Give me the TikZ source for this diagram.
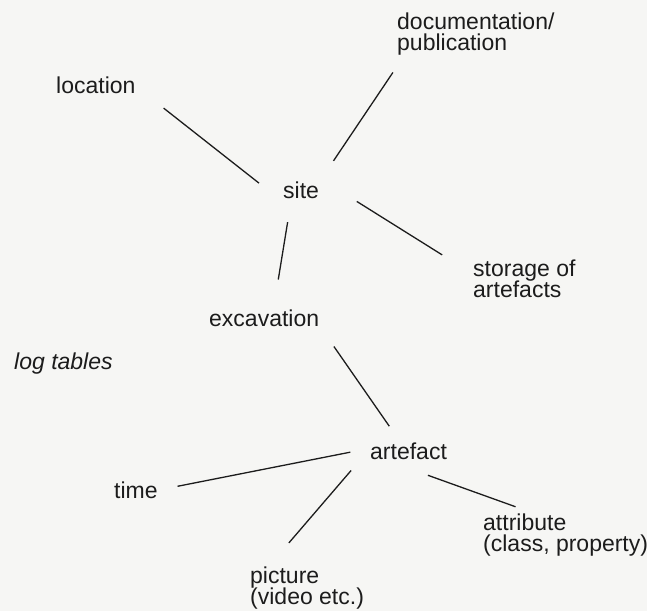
\documentclass[tikz,border=0pt]{standalone}
\usepackage{fontspec}
\setmainfont{Liberation Sans}
\usetikzlibrary{positioning}
\definecolor{paper}{RGB}{246,246,244}
\definecolor{ink}{RGB}{28,28,28}
\tikzstyle{term} = [inner sep=2pt, text=ink, font=\fontsize{23}{21.5}\selectfont]
\tikzstyle{note} = [term, font=\fontsize{23}{21.5}\selectfont\itshape]
\tikzstyle{multi} = [term, align=left]
\tikzstyle{link} = [draw, ink, line width=1.3pt]

\begin{document}
\begin{tikzpicture}[x=1pt, y=-1pt]
	\fill[paper] (0,0) rectangle (647,611);
	\useasboundingbox (0,0) rectangle (647,611);

	\node[term, anchor=base west] (site) at (281,198) {site};
	\node[term, above left=105pt and 227pt of site.base west, anchor=base west] (location) {location};
	\node[multi, above right=147.5pt and 114pt of site.base west, anchor=base west] (documentation) {documentation/\\publication};
	\node[multi, below right=99.5pt and 190pt of site.base west, anchor=base west] (storage) {storage of\\artefacts};
	\node[term, below left=128pt and 74pt of site.base west, anchor=base west] (excavation) {excavation};
	\node[note, below left=43pt and 195pt of excavation.base west, anchor=base west] (logTables) {log tables};
	\node[term, below right=133pt and 161pt of excavation.base west, anchor=base west] (artefact) {artefact};
	\node[term, below left=39pt and 256pt of artefact.base west, anchor=base west] (time) {time};
	\node[multi, below left=145.5pt and 120pt of artefact.base west, anchor=base west] (picture) {picture\\(video etc.)};
	\node[multi, below right=92.5pt and 113pt of artefact.base west, anchor=base west] (attribute) {attribute\\(class, property)};

	\path[link, shorten <=33pt, shorten >=28pt] (location.-4) -- (site.south west);
	\path[link, shorten <=18pt, shorten >=22pt] (documentation.-162) -- (site.north east);
	\path[link, shorten <=42pt, shorten >=34pt] (site.north east) -- (storage.174);
	\path[link, shorten <=22pt, shorten >=28pt] (site.-133) -- (excavation.48);
	\path[link, shorten <=22pt, shorten >=17pt] (excavation.south east) -- (artefact.132);
	\path[link, shorten <=18pt, shorten >=18pt] (artefact.177) -- (time.east);
	\path[link, shorten <=26pt, shorten >=28pt] (artefact.west) -- (picture.147);
	\path[link, shorten <=41pt, shorten >=13pt] (artefact.-151) -- (attribute.148);
\end{tikzpicture}
\end{document}
